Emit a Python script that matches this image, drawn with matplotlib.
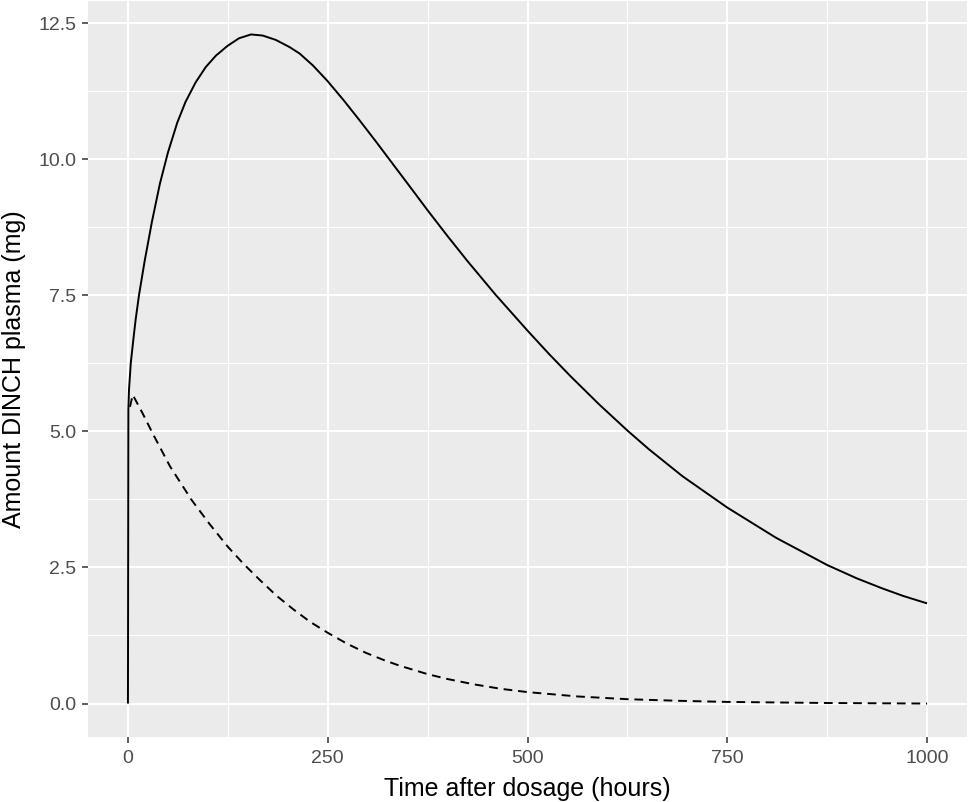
import matplotlib
matplotlib.use("Agg")
import matplotlib.pyplot as plt
from matplotlib.ticker import MultipleLocator

# Amount in plasma (solid line)
time_total = [0, 0.5, 1.3, 3.5, 7, 9.6, 13.8, 20.8, 30, 40, 50, 61.7, 72, 84.7,
              97.3, 110, 124.6, 139, 154, 168.6, 185, 202, 214.8, 231.5, 250,
              270, 290, 311, 332, 350, 375, 400, 425, 460, 500, 527, 554, 590,
              625, 652, 694, 750, 811, 875, 912, 944, 970, 1000]
amount_total = [0, 5.4, 5.76, 6.25, 6.72, 7.05, 7.5, 8.12, 8.85, 9.55, 10.12,
                10.67, 11.05, 11.41, 11.69, 11.9, 12.08, 12.22, 12.29, 12.27,
                12.19, 12.06, 11.94, 11.72, 11.43, 11.08, 10.71, 10.31, 9.9,
                9.55, 9.06, 8.585, 8.125, 7.51, 6.85, 6.42, 6.01, 5.49, 5.015,
                4.67, 4.175, 3.6, 3.045, 2.545, 2.3, 2.115, 1.977, 1.84]

# Dashed line
time_dose = [2.5, 6, 18, 31.7, 52.5, 79.6, 102, 125, 145, 165, 186, 207, 228,
             250, 274, 298, 320, 339, 375, 400, 434, 467, 500, 563, 625, 690,
             750, 875, 1000]
amount_dose = [5.45, 5.67, 5.34, 4.94, 4.36, 3.74, 3.30, 2.88, 2.56, 2.27, 1.98,
               1.73, 1.50, 1.30, 1.10, 0.93, 0.80, 0.70, 0.54, 0.45, 0.35, 0.27,
               0.21, 0.13, 0.08, 0.05, 0.03, 0.01, 0.0]

x_ticks = [0, 250, 500, 750, 1000]
y_ticks = [0, 2.5, 5, 7.5, 10, 12.5]
y_labels = ["0.0", "2.5", "5.0", "7.5", "10.0", "12.5"]

plt.rcParams["font.family"] = ["Liberation Sans", "DejaVu Sans"]

W, H = 968, 802
fig = plt.figure(figsize=(W / 100, H / 100), dpi=100)
ax = fig.add_axes([88 / W, (H - 737) / H, (967 - 88) / W, (737 - 1) / H])

ax.set_facecolor("#EBEBEB")
for s in ax.spines.values():
    s.set_visible(False)

ax.plot(time_total, amount_total, color="black", lw=1.4,
        solid_joinstyle="round", solid_capstyle="butt")
ax.plot(time_dose, amount_dose, color="black", lw=1.4, linestyle=(0, (4.5, 3)))

ymax = max(amount_total)
ax.set_xlim(-50, 1050)
ax.set_ylim(-0.05 * ymax, ymax * 1.05)

ax.set_xticks(x_ticks)
ax.set_yticks(y_ticks)
ax.set_yticklabels(y_labels)
ax.xaxis.set_minor_locator(MultipleLocator(125))
ax.yaxis.set_minor_locator(MultipleLocator(1.25))

ax.grid(which="major", color="white", lw=1.5)
ax.grid(which="minor", color="white", lw=0.75)
ax.set_axisbelow(True)

ax.tick_params(which="major", length=4.2, width=1.1, color="#333333",
               labelcolor="#4D4D4D", labelsize=14)
ax.tick_params(axis="x", pad=5.5)
ax.tick_params(axis="y", pad=4)
ax.tick_params(which="minor", length=0)

ax.set_xlabel("Time after dosage (hours)", fontsize=18, color="black", labelpad=7)
ax.set_ylabel("Amount DINCH plasma (mg)", fontsize=18, color="black", labelpad=9)

fig.savefig("out.png", dpi=100)
